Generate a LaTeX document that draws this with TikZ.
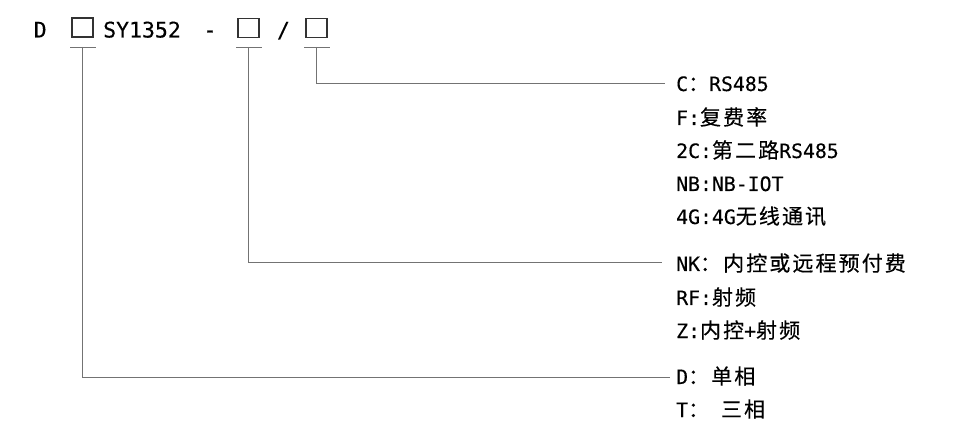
\documentclass[tikz,border=0pt]{standalone}
\usepackage{fontspec}
\setmainfont[FakeBold=0.3]{DejaVu Sans Mono}
\newfontfamily\cjk[FakeBold=0.4,LetterSpace=10]{Noto Sans CJK SC}
\newcommand{\cj}[1]{{\cjk\fontsize{21}{24}\selectfont #1}}
\begin{document}
\begin{tikzpicture}[x=1pt,y=-1pt,
  lbl/.style={anchor=base west,inner sep=0pt,font=\fontsize{19.8}{22}\selectfont},
  toptxt/.style={anchor=base west,inner sep=0pt,font=\fontsize{21.5}{24}\selectfont},
  box/.style={draw=black!80,line width=1.3pt,minimum width=21pt,minimum height=19pt,inner sep=0pt},
  conn/.style={draw=black!55,line width=0.9pt},
]
\useasboundingbox (0,0) rectangle (960,443);
% top row
\node[toptxt] (tD) at (33.5,37.5) {D};
\node[box] (b1) at (82.5,27.5) {};
\node[toptxt] (tSY) at (103,37.5) {SY1352};
\node[toptxt,anchor=base] (tdash) at (210,37.5) {-};
\node[box] (b2) at (248.5,28) {};
\node[toptxt,anchor=base] (tslash) at (283.5,37.5) {/};
\node[box] (b3) at (316.5,28) {};
% underline tap points
\coordinate (u1) at (82,47);
\coordinate (u2) at (248,47);
\coordinate (u3) at (316,47);
\draw[conn] ([xshift=-12pt]u1) -- ([xshift=14pt]u1);
\draw[conn] ([xshift=-12pt]u2) -- ([xshift=14pt]u2);
\draw[conn] ([xshift=-12pt]u3) -- ([xshift=14pt]u3);
% connector ends
\coordinate (e3) at (665,83);
\coordinate (e2) at (662,262);
\coordinate (e1) at (670,377);
\draw[conn] (u3) |- (e3);
\draw[conn] (u2) |- (e2);
\draw[conn] (u1) |- (e1);
% labels
\node[lbl] (lC)  at (676,91)  {C\cj{：}RS485};
\node[lbl] (lF)  at (676,125) {F:\cj{复费率}};
\node[lbl] (l2C) at (676,158) {2C:\cj{第二路}RS485};
\node[lbl] (lNB) at (676,191) {NB:NB-IOT};
\node[lbl] (l4G) at (676,224) {4G:4G\cj{无线通讯}};
\node[lbl] (lNK) at (676,271) {NK\cj{：内控或远程预付费}};
\node[lbl] (lRF) at (676,305) {RF:\cj{射频}};
\node[lbl] (lZ)  at (676,338) {Z:\cj{内控}+\cj{射频}};
\node[lbl] (lD)  at (676,384) {D\cj{：单相}};
\node[lbl] (lT)  at (676,417) {T\cj{：} \cj{三相}};
\end{tikzpicture}
\end{document}
